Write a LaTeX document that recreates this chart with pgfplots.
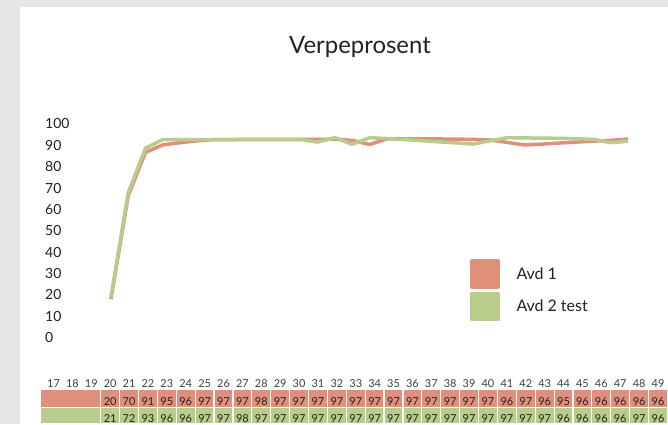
\documentclass[border=0pt]{standalone}
\usepackage{pgfplots}
\pgfplotsset{compat=1.18}
\usepackage{fontspec}
\setmainfont{Lato}
\definecolor{salmon}{HTML}{E0907A}
\definecolor{leaf}{HTML}{B8CC8C}
\definecolor{bggrey}{HTML}{E6E6E6}
\definecolor{txt}{HTML}{222222}
\begin{document}
\begin{tikzpicture}[x=1bp,y=1bp]
\fill[bggrey] (0,0) rectangle (668,424);
\fill[white] (20,0) rectangle (668,417);
\useasboundingbox (0,0) rectangle (668,424);
\node[font=\fontsize{24}{28}\selectfont, text=txt] at (360,377) {Verpeprosent};

\begin{axis}[at={(111bp,83.7bp)}, anchor=south west, scale only axis,
  width=517bp, height=218.9bp, xmin=0, xmax=30, ymin=0, ymax=106,
  clip=false, axis line style={draw=none}, tick style={draw=none},
  xtick=\empty,
  ytick={1.26,11.61,21.96,32.31,42.66,53.01,63.36,73.71,84.06,94.41,104.76},
  yticklabels={0,10,20,30,40,50,60,70,80,90,100},
  yticklabel style={anchor=west, xshift=-66bp, inner sep=0pt, font=\fontsize{14}{16}\selectfont, text=txt},
  legend style={at={(0.694,0.371)}, anchor=north west, draw=none, fill=none,
    inner sep=0pt, row sep=3bp, column sep=17bp, font=\fontsize{16}{18}\selectfont,
    nodes={inner sep=0pt, text=txt}},
  legend cell align=left,
  legend image code/.code={\fill[#1] (0bp,-13bp) rectangle (26bp,13bp);},
]
\addplot[salmon, line width=3.5bp, line join=round] coordinates {
(0,20)(1,70)(2,91)(3,94.6)(4,95.7)(5,96.6)(6,97.2)(7,97.2)(8,97.3)(9,97.3)(10,97.3)
(11,97.3)(12,97.3)(13,97.4)(14,96.8)(15,94.8)(16,97.5)(17,97.5)(18,97.5)(19,97.5)(20,97.4)
(21,97.3)(22,97)(23,95.8)(24,94.6)(25,95)(26,95.5)(27,96)(28,96.4)(29,96.8)(30,97.5)};
\addlegendentry{Avd 1}
\addplot[leaf, line width=3.5bp, line join=round] coordinates {
(0,21)(1,71.5)(2,93)(3,97.2)(4,97.2)(5,97.2)(6,97.2)(7,97.2)(8,97.2)(9,97.2)(10,97.2)
(11,97.2)(12,96)(13,98.1)(14,94.9)(15,98.1)(16,97.7)(17,97.2)(18,96.7)(19,96.1)(20,95.6)
(21,95)(22,96.6)(23,98.1)(24,98)(25,97.9)(26,97.8)(27,97.6)(28,97.3)(29,95.7)(30,96.4)};
\addlegendentry{Avd 2 test}
\end{axis}

\begin{axis}[at={(40bp,0bp)}, anchor=south west, scale only axis,
  width=628bp, height=50bp, xmin=16.285, xmax=49.53, ymin=0, ymax=50,
  hide axis]
\addplot[ybar interval, fill=salmon, draw=white, line width=1.2bp] coordinates {
(16.285,35)(19.5,35)(20.5,35)(21.5,35)(22.5,35)(23.5,35)(24.5,35)(25.5,35)(26.5,35)(27.5,35)
(28.5,35)(29.5,35)(30.5,35)(31.5,35)(32.5,35)(33.5,35)(34.5,35)(35.5,35)(36.5,35)(37.5,35)
(38.5,35)(39.5,35)(40.5,35)(41.5,35)(42.5,35)(43.5,35)(44.5,35)(45.5,35)(46.5,35)(47.5,35)
(48.5,35)(49.5,35)(50.5,35)};
\addplot[ybar interval, fill=leaf, draw=white, line width=1.2bp] coordinates {
(16.285,16.5)(19.5,16.5)(20.5,16.5)(21.5,16.5)(22.5,16.5)(23.5,16.5)(24.5,16.5)(25.5,16.5)(26.5,16.5)(27.5,16.5)
(28.5,16.5)(29.5,16.5)(30.5,16.5)(31.5,16.5)(32.5,16.5)(33.5,16.5)(34.5,16.5)(35.5,16.5)(36.5,16.5)(37.5,16.5)
(38.5,16.5)(39.5,16.5)(40.5,16.5)(41.5,16.5)(42.5,16.5)(43.5,16.5)(44.5,16.5)(45.5,16.5)(46.5,16.5)(47.5,16.5)
(48.5,16.5)(49.5,16.5)(50.5,16.5)};
% header
\addplot[draw=none, mark=none, point meta=explicit symbolic, nodes near coords,
  every node near coord/.append style={anchor=base, inner sep=0pt, font=\fontsize{11}{13}\selectfont, text=black!75}]
coordinates {(17,36.7)[17](18,36.7)[18](19,36.7)[19](20,36.7)[20](21,36.7)[21](22,36.7)[22](23,36.7)[23]
(24,36.7)[24](25,36.7)[25](26,36.7)[26](27,36.7)[27](28,36.7)[28](29,36.7)[29](30,36.7)[30](31,36.7)[31]
(32,36.7)[32](33,36.7)[33](34,36.7)[34](35,36.7)[35](36,36.7)[36](37,36.7)[37](38,36.7)[38](39,36.7)[39]
(40,36.7)[40](41,36.7)[41](42,36.7)[42](43,36.7)[43](44,36.7)[44](45,36.7)[45](46,36.7)[46](47,36.7)[47]
(48,36.7)[48](49,36.7)[49]};
% Avd 1 row
\addplot[draw=none, mark=none, point meta=explicit symbolic, nodes near coords,
  every node near coord/.append style={anchor=base, inner sep=0pt, font=\fontsize{11}{13}\selectfont, text=txt}]
coordinates {(20,18.3)[20](21,18.3)[70](22,18.3)[91](23,18.3)[95](24,18.3)[96](25,18.3)[97](26,18.3)[97]
(27,18.3)[97](28,18.3)[98](29,18.3)[97](30,18.3)[97](31,18.3)[97](32,18.3)[97](33,18.3)[97](34,18.3)[97]
(35,18.3)[97](36,18.3)[97](37,18.3)[97](38,18.3)[97](39,18.3)[97](40,18.3)[97](41,18.3)[96](42,18.3)[97]
(43,18.3)[96](44,18.3)[95](45,18.3)[96](46,18.3)[96](47,18.3)[96](48,18.3)[96](49,18.3)[96]};
% Avd 2 row
\addplot[draw=none, mark=none, point meta=explicit symbolic, nodes near coords,
  every node near coord/.append style={anchor=base, inner sep=0pt, font=\fontsize{11}{13}\selectfont, text=txt}]
coordinates {(20,1.2)[21](21,1.2)[72](22,1.2)[93](23,1.2)[96](24,1.2)[96](25,1.2)[97](26,1.2)[97]
(27,1.2)[98](28,1.2)[97](29,1.2)[97](30,1.2)[97](31,1.2)[97](32,1.2)[97](33,1.2)[97](34,1.2)[97]
(35,1.2)[97](36,1.2)[97](37,1.2)[97](38,1.2)[97](39,1.2)[97](40,1.2)[97](41,1.2)[97](42,1.2)[97]
(43,1.2)[97](44,1.2)[96](45,1.2)[96](46,1.2)[96](47,1.2)[96](48,1.2)[97](49,1.2)[96]};
\end{axis}
\end{tikzpicture}
\end{document}
